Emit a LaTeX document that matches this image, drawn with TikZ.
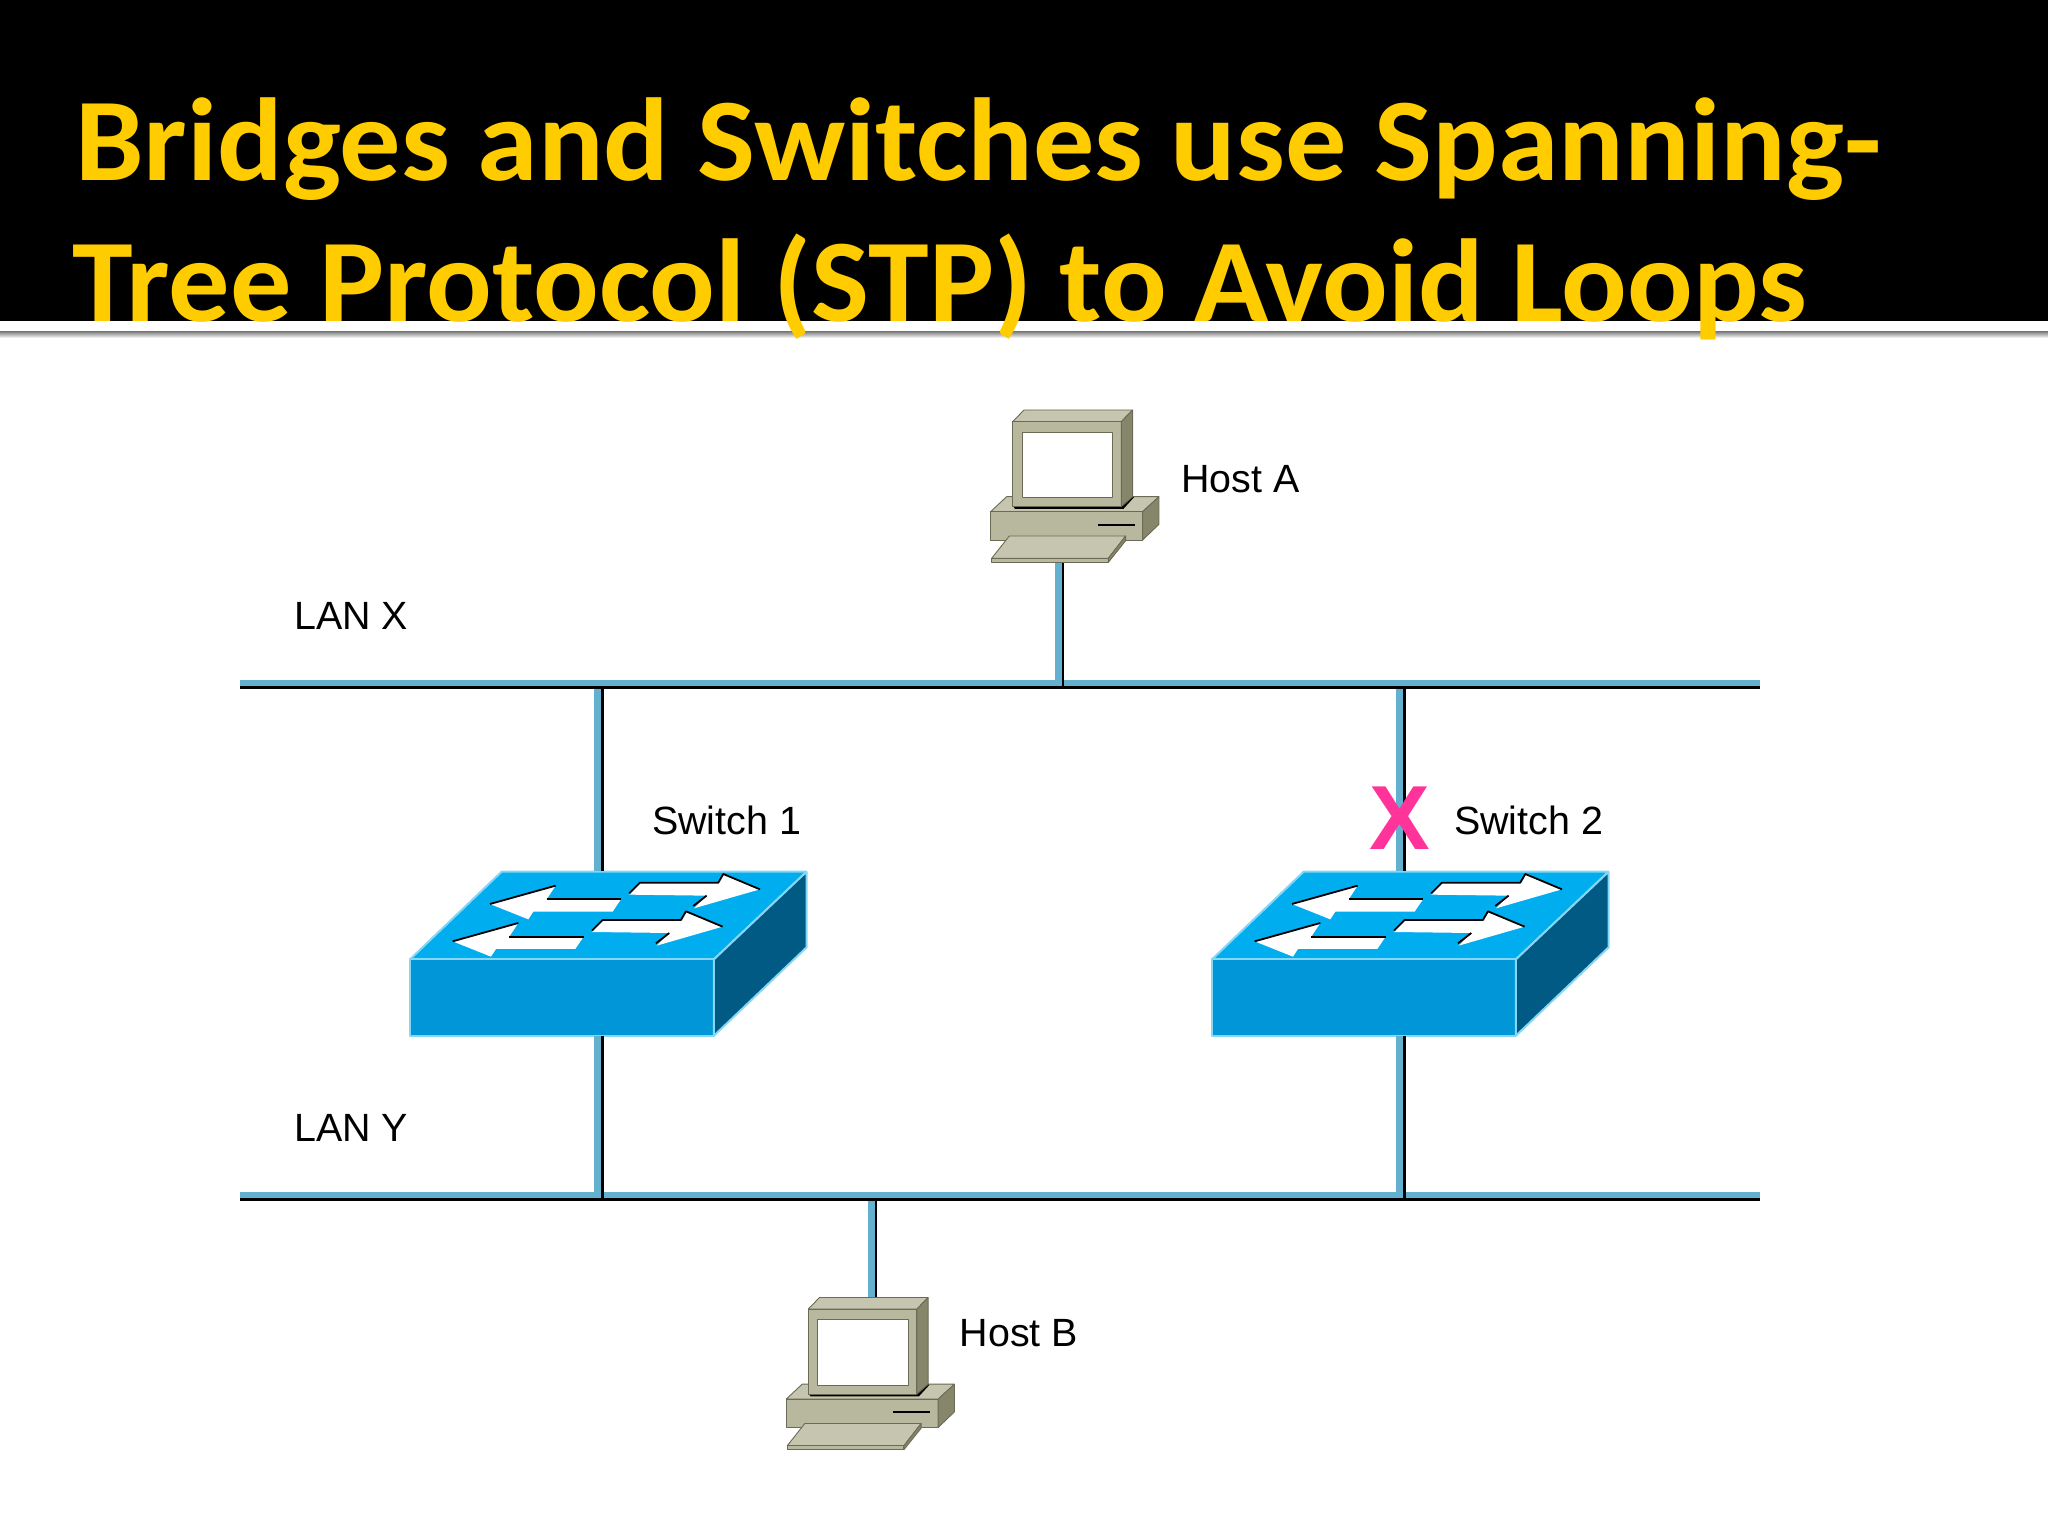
\documentclass[tikz,border=0pt]{standalone}
\usepackage{fontspec}
\setmainfont{Liberation Sans}
\newfontfamily\titlefont[Ligatures=TeX,FakeStretch=1.037]{Carlito}
\definecolor{titlegold}{HTML}{FFCC00}
\definecolor{cableblue}{HTML}{63B1CF}
\definecolor{crossmark}{HTML}{FF3399}
\definecolor{switchtop}{HTML}{00AEEF}
\definecolor{switchfront}{HTML}{0096D8}
\definecolor{switchside}{HTML}{005A84}
\definecolor{switchedge}{HTML}{86D6F5}
\definecolor{hostlight}{HTML}{C6C6B0}
\definecolor{hostmid}{HTML}{B8B89E}
\definecolor{hostdark}{HTML}{85866A}
\definecolor{hostedge}{HTML}{6B6B55}
\tikzset{
  titleline/.style={anchor=base west,inner sep=0pt,text=titlegold,font=\titlefont\bfseries\fontsize{118bp}{142bp}\selectfont},
  hostlabel/.style={anchor=base west,inner sep=0pt,font=\fontsize{39.4bp}{46bp}\selectfont},
  crosslabel/.style={anchor=base,inner sep=0pt,text=crossmark,font=\bfseries\fontsize{91bp}{100bp}\selectfont},
  lanbus/.style={fill=cableblue,inner sep=0pt,minimum width=1520bp,minimum height=6.5bp},
  busline/.style={line width=2.7bp,black},
  cable/.style={line width=2.5bp,black,preaction={draw=cableblue,line width=7bp,transform canvas={xshift=-4.7bp}}},
  hostpart/.style={draw=hostedge,line width=0.9bp},
  switchpart/.style={draw=switchedge,line width=2bp},
  arrowedge/.style={line width=1.8bp,black},
  port/.style={inner sep=0pt,minimum size=0pt},
  pics/hosticon/.style={code={
    \begin{scope}[x=0.3333bp,y=-0.3333bp]
      \draw [hostpart,fill=hostlight] (92,365) -- (140,320) -- (597,320) -- (548,365) -- cycle;
      \draw [hostpart,fill=hostmid] (92,365) -- (548,365) -- (548,450) -- (92,450) -- cycle;
      \draw [hostpart,fill=hostdark] (548,365) -- (597,320) -- (597,403) -- (548,450) -- cycle;
      \draw [line width=2bp,black] (414,404) -- (525,404);
      \fill [black] (160,349) -- (484,349) -- (510,318) -- (522,322) -- (490,357) -- (165,357) -- cycle;
      \draw [hostpart,fill=hostlight] (158,95) -- (192,60) -- (518,60) -- (484,95) -- cycle;
      \draw [hostpart,fill=hostmid] (158,95) -- (484,95) -- (484,350) -- (158,350) -- cycle;
      \draw [hostpart,fill=hostdark] (484,95) -- (518,60) -- (518,320) -- (484,350) -- cycle;
      \draw [hostpart,fill=white] (187,127) -- (458,127) -- (458,323) -- (187,323) -- cycle;
      \draw [hostpart,fill=hostlight] (95,505) -- (148,438) -- (497,438) -- (445,505) -- cycle;
      \draw [hostpart,fill=hostmid] (95,505) -- (445,505) -- (445,517) -- (95,517) -- cycle;
      \draw [hostpart,fill=hostdark] (445,505) -- (497,438) -- (497,452) -- (445,517) -- cycle;
      \node [port] (-top) at (361,60) {};
      \node [port] (-bot) at (309,517) {};
    \end{scope}
  }},
  pics/switchicon/.style={code={
    \begin{scope}[x=0.3333bp,y=-0.3333bp]
      \draw [switchpart,fill=switchtop] (60,328) -- (335,65) -- (1250,65) -- (972,328) -- cycle;
      \draw [switchpart,fill=switchfront] (60,328) -- (972,328) -- (972,557) -- (60,557) -- cycle;
      \draw [switchpart,fill=switchside] (972,328) -- (1250,65) -- (1250,292) -- (972,557) -- cycle;
      \foreach \dx/\dy in {0/0,-112/112} {
        \begin{scope}[shift={(\dx,\dy)}]
          \fill [white] (300,162) -- (497,107) -- (470,148) -- (693,148) -- (668,185) -- (430,185) -- (415,208) -- cycle;
          \draw [arrowedge] (300,162) -- (497,107);
          \draw [arrowedge] (470,148) -- (693,148);
          \fill [white] (718,134) -- (750,98) -- (985,98) -- (1000,72) -- (1110,118) -- (912,175) -- (950,137) -- cycle;
          \draw [arrowedge] (718,130) -- (750,98) -- (985,98) -- (1000,72) -- (1110,118);
          \draw [arrowedge] (910,168) -- (950,137);
        \end{scope}
      }
      \node [port] (-top) at (637,65) {};
      \node [port] (-bot) at (637,557) {};
    \end{scope}
  }},
}
\begin{document}
\begin{tikzpicture}[x=1bp,y=-1bp,line join=bevel,]
  \useasboundingbox (0,0) rectangle (2048,1536);
  \fill [white] (0,0) rectangle (2048,1536);
  % Banner
  \fill [black] (0,0) rectangle (2048,321);
  \shade [top color=black!55,bottom color=white] (0,331) rectangle (2048,338);
  \node [titleline] (titlea) at (75,181) {Bridges and Switches use Spanning-};
  \node [titleline] (titleb) at (72,321) {Tree Protocol (STP) to Avoid Loops};
  % Node: LAN X, LAN Y
  \node [lanbus] (lanx) at (1000,683) {};
  \node [lanbus] (lany) at (1000,1195) {};
  \node [hostlabel] (lanxlabel) at (294,629) {LAN X};
  \node [hostlabel] (lanylabel) at (294,1141) {LAN Y};
  % Node: Host A
  \pic (hosta) at (960,390) {hosticon};
  \node [hostlabel] (hostalabel) at (1181,492) {Host A};
  % Node: Host B
  \pic (hostb) at (755.5,1277.5) {hosticon};
  \node [hostlabel] (hostblabel) at (959.5,1346) {Host B};
  % Node: Switch 1
  \pic (swa) at (390,850) {switchicon};
  \node [hostlabel] (swalabel) at (652,834) {Switch 1};
  % Node: Switch 2
  \pic (swb) at (1192,850) {switchicon};
  \node [hostlabel] (swblabel) at (1454,834) {Switch 2};
  % Edge: Host A -> LAN X
  \draw [cable] (hosta-bot) -- (hosta-bot |- lanx.south);
  % Edge: LAN X -> Switch 1
  \draw [cable] (swa-top |- lanx.south) -- (swa-top);
  % Edge: LAN X -> Switch 2
  \draw [cable] (swb-top |- lanx.south) -- (swb-top);
  % Edge: Switch 1 -> LAN Y
  \draw [cable] (swa-bot) -- (swa-bot |- lany.south);
  % Edge: Switch 2 -> LAN Y
  \draw [cable] (swb-bot) -- (swb-bot |- lany.south);
  % Edge: LAN Y -> Host B
  \draw [cable] (hostb-top |- lany.south) -- (hostb-top);
  % Bus undersides
  \draw [busline] ([yshift=-1.3bp]lanx.south west) -- ([yshift=-1.3bp]lanx.south east);
  \draw [busline] ([yshift=-1.3bp]lany.south west) -- ([yshift=-1.3bp]lany.south east);
  % Blocked port
  \node [crosslabel] (blocked) at (1399.5,849) {X};
\end{tikzpicture}
\end{document}
